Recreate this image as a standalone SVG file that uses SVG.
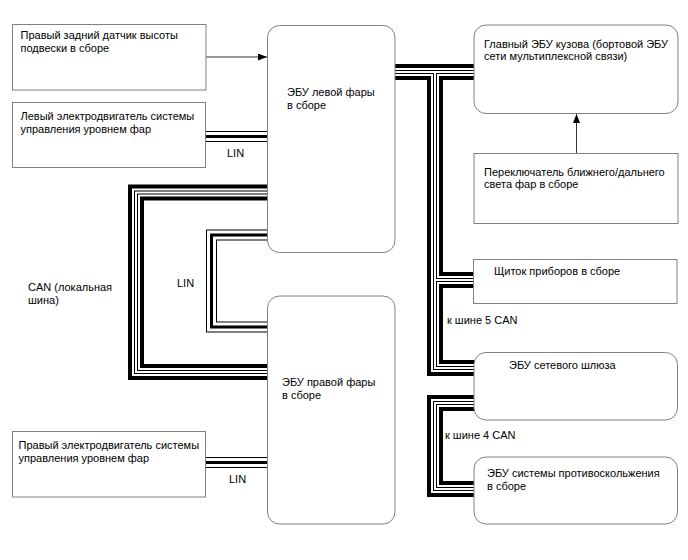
<svg xmlns="http://www.w3.org/2000/svg" width="688" height="560" viewBox="0 0 688 560">
<style>
.box{fill:#fff;stroke:#808080;stroke-width:1}
.t{font-family:"Liberation Sans",Arial,sans-serif;font-size:11px;fill:#000}
.bus{fill:none;stroke-linejoin:miter;stroke-linecap:butt}
.c1{stroke:#000;stroke-width:16}
.c2{stroke:#fff;stroke-width:8}
.c3{stroke:#000;stroke-width:4}
.c4{stroke:#fff;stroke-width:2}
.l1{stroke:#000;stroke-width:11}
.l2{stroke:#fff;stroke-width:9}
.l3{stroke:#000;stroke-width:3}
.ar{fill:none;stroke:#333;stroke-width:1}
</style>
<defs>
<marker id="ah" markerWidth="9" markerHeight="7" refX="9" refY="3.5" orient="auto" markerUnits="userSpaceOnUse">
<path d="M0,0 L9,3.5 L0,7 Z" fill="#000"/>
</marker>
<path id="canA" d="M270 192.5 H136 V372 H270"/>
<path id="canB" d="M393 72 H476 M435 72 V368 H476 M435 280 H476"/>
<path id="canC" d="M476 403 H435 V489 H476"/>
<path id="linA" d="M270 235 H211.5 V327 H270 M204 136.5 H270 M204 462.5 H270"/>
</defs>
<g id="connectors">
<g class="bus c1"><use href="#canA"/><use href="#canB"/><use href="#canC"/></g>
<g class="bus c2"><use href="#canA"/><use href="#canB"/><use href="#canC"/></g>
<g class="bus c3"><use href="#canA"/><use href="#canB"/><use href="#canC"/></g>
<g class="bus c4"><use href="#canA"/><use href="#canB"/><use href="#canC"/></g>
<g class="bus l1"><use href="#linA"/></g>
<g class="bus l2"><use href="#linA"/></g>
<g class="bus l3"><use href="#linA"/></g>
<line class="ar" x1="206" y1="57" x2="267" y2="57" marker-end="url(#ah)"/>
<line class="ar" x1="576.5" y1="153.5" x2="576.5" y2="114" marker-end="url(#ah)"/>
<text class="t" x="227" y="157">LIN</text>
<text class="t" x="229" y="483">LIN</text>
<text class="t" x="177" y="287">LIN</text>
<text class="t" x="28" y="291">CAN (локальная</text>
<text class="t" x="28" y="304">шина)</text>
<text class="t" x="447" y="324">к шине 5 CAN</text>
<text class="t" x="445" y="439">к шине 4 CAN</text>
</g>
<g id="sensor">
<rect class="box" x="12.5" y="24.5" width="193.5" height="65.5"/>
<text class="t" x="20.5" y="39">Правый задний датчик высоты</text>
<text class="t" x="20.5" y="52">подвески в сборе</text>
</g>
<g id="leftMotor">
<rect class="box" x="12.5" y="102.5" width="193" height="65"/>
<text class="t" x="20.5" y="120">Левый электродвигатель системы</text>
<text class="t" x="20.5" y="133">управления уровнем фар</text>
</g>
<g id="rightMotor">
<rect class="box" x="12.5" y="431.5" width="193" height="65.5"/>
<text class="t" x="18.5" y="449">Правый электродвигатель системы</text>
<text class="t" x="18.5" y="462">управления уровнем фар</text>
</g>
<g id="leftECU">
<rect class="box" x="267.5" y="25.5" width="127.5" height="227" rx="12"/>
<text class="t" x="287" y="96">ЭБУ левой фары</text>
<text class="t" x="287" y="109">в сборе</text>
</g>
<g id="rightECU">
<rect class="box" x="267.5" y="296" width="127.5" height="228" rx="12"/>
<text class="t" x="282" y="385.5">ЭБУ правой фары</text>
<text class="t" x="282" y="399">в сборе</text>
</g>
<g id="bodyECU">
<rect class="box" x="474" y="25" width="204" height="88.5" rx="12"/>
<text class="t" x="484" y="47.5">Главный ЭБУ кузова (бортовой ЭБУ</text>
<text class="t" x="484" y="60">сети мультиплексной связи)</text>
</g>
<g id="switch">
<rect class="box" x="474" y="153.5" width="204" height="70"/>
<text class="t" x="484" y="175.5">Переключатель ближнего/дальнего</text>
<text class="t" x="484" y="188">света фар в сборе</text>
</g>
<g id="cluster">
<rect class="box" x="473.5" y="259.5" width="203.5" height="44"/>
<text class="t" x="494" y="274.5">Щиток приборов в сборе</text>
</g>
<g id="gateway">
<rect class="box" x="474" y="352.5" width="203.5" height="67.5" rx="12"/>
<text class="t" x="509" y="369">ЭБУ сетевого шлюза</text>
</g>
<g id="skidECU">
<rect class="box" x="474" y="457" width="203.5" height="67" rx="12"/>
<text class="t" x="487" y="476.5">ЭБУ системы противоскольжения</text>
<text class="t" x="487" y="490">в сборе</text>
</g>
</svg>
